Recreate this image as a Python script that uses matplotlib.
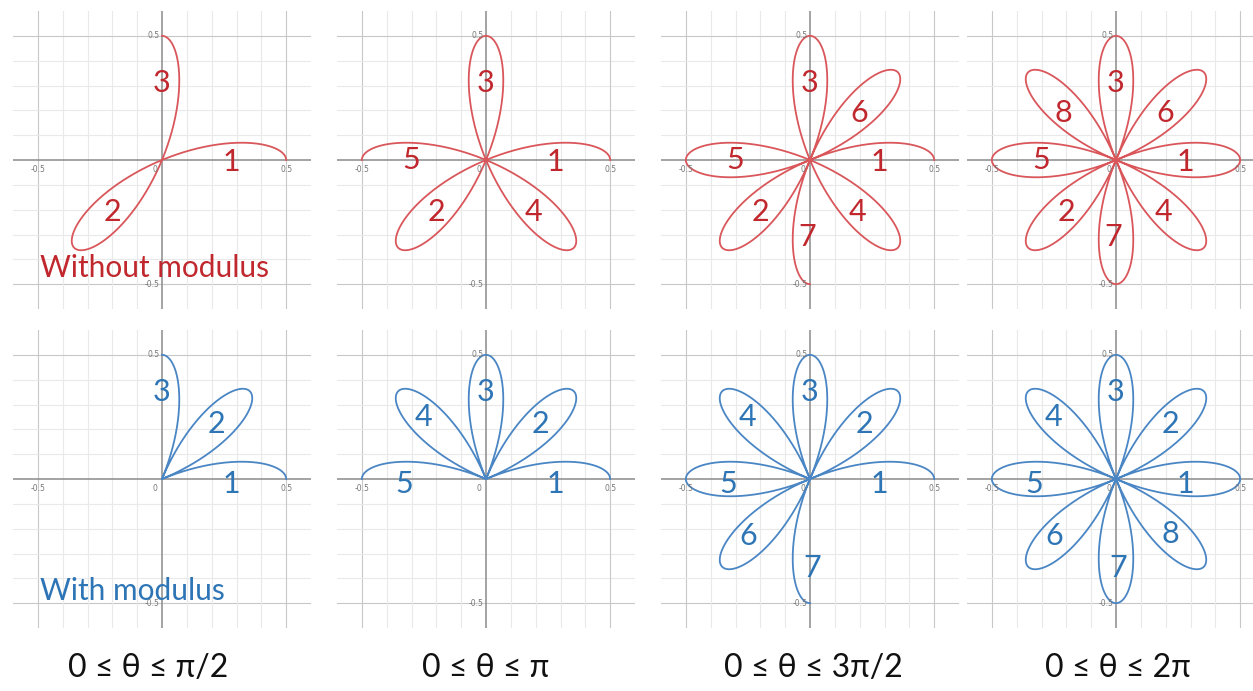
import numpy as np
import matplotlib
matplotlib.use("Agg")
import matplotlib.pyplot as plt

# rose r = a*cos(k*theta), drawn for growing theta ranges
amplitude = 0.5
k = 4
theta_max = [np.pi / 2, np.pi, 3 * np.pi / 2, 2 * np.pi]
captions = ["0 ≤ θ ≤ π/2", "0 ≤ θ ≤ π", "0 ≤ θ ≤ 3π/2", "0 ≤ θ ≤ 2π"]
petals_shown = [3, 5, 7, 8]

# petal number positions (x, y) for the signed and the |r| rose
labels_plain_x = [0.28, -0.20, 0.00, 0.19, -0.30, 0.20, -0.01, -0.21]
labels_plain_y = [-0.01, -0.21, 0.31, -0.21, 0.00, 0.19, -0.31, 0.19]
labels_abs_x = [0.28, 0.22, 0.00, -0.25, -0.33, -0.25, 0.01, 0.22]
labels_abs_y = [-0.02, 0.22, 0.35, 0.25, -0.02, -0.23, -0.36, -0.22]

red_line, red_text = "#d9575b", "#c0282e"
blue_line, blue_text = "#4a86c4", "#2e75b6"

W, H = 1253, 691
fig = plt.figure(figsize=(W / 100, H / 100), dpi=100)

col_cx = [162, 486, 810, 1116]
row_cy = [160, 479]
half = 149  # pixels for 0.6 units

def grid_axes(cx, cy):
    ax = fig.add_axes([(cx - half) / W, 1 - (cy + half) / H, 2 * half / W, 2 * half / H])
    ax.set_xlim(-0.6, 0.6)
    ax.set_ylim(-0.6, 0.6)
    ax.axis("off")
    for v in np.round(np.arange(-0.5, 0.51, 0.1), 2):
        if v == 0:
            continue
        c = "#c8c8c8" if abs(v) == 0.5 else "#e9e9e9"
        ax.axvline(v, color=c, lw=0.8, zorder=0)
        ax.axhline(v, color=c, lw=0.8, zorder=0)
    ax.axvline(0, color="#8a8a8a", lw=1.1, zorder=1)
    ax.axhline(0, color="#8a8a8a", lw=1.1, zorder=1)
    tk = dict(fontsize=5.5, color="#777777", family="DejaVu Sans")
    ax.text(0.5, -0.02, "0.5", ha="center", va="top", **tk)
    ax.text(-0.5, -0.02, "-0.5", ha="center", va="top", **tk)
    ax.text(-0.01, 0.5, "0.5", ha="right", va="center", **tk)
    ax.text(-0.01, -0.5, "-0.5", ha="right", va="center", **tk)
    ax.text(-0.02, -0.02, "0", ha="right", va="top", **tk)
    return ax

for row, use_abs in enumerate([False, True]):
    lx = labels_abs_x if use_abs else labels_plain_x
    ly = labels_abs_y if use_abs else labels_plain_y
    lc = blue_line if use_abs else red_line
    tc = blue_text if use_abs else red_text
    for col in range(4):
        ax = grid_axes(col_cx[col], row_cy[row])
        th = np.linspace(0, theta_max[col], 2000)
        r = amplitude * np.cos(k * th)
        if use_abs:
            r = np.abs(r)
        ax.plot(r * np.cos(th), r * np.sin(th), color=lc, lw=1.3, zorder=2)
        for i in range(petals_shown[col]):
            ax.text(lx[i], ly[i], str(i + 1), color=tc, fontsize=22,
                    family="Lato", ha="center", va="center", zorder=3)
        if col == 0:
            name = "With modulus" if use_abs else "Without modulus"
            yb = -0.486 if use_abs else -0.47
            ax.text(-0.49, yb, name, color=tc, fontsize=21.5, family="Lato",
                    ha="left", va="baseline", zorder=3)

cap_x = [148, 486, 813, 1118]
for x, s in zip(cap_x, captions):
    fig.text(x / W, 1 - 668 / H, s, ha="center", va="center", fontsize=23,
             family=["Lato", "DejaVu Sans"], color="#111111")

fig.savefig("out.png", dpi=100, facecolor="white")
